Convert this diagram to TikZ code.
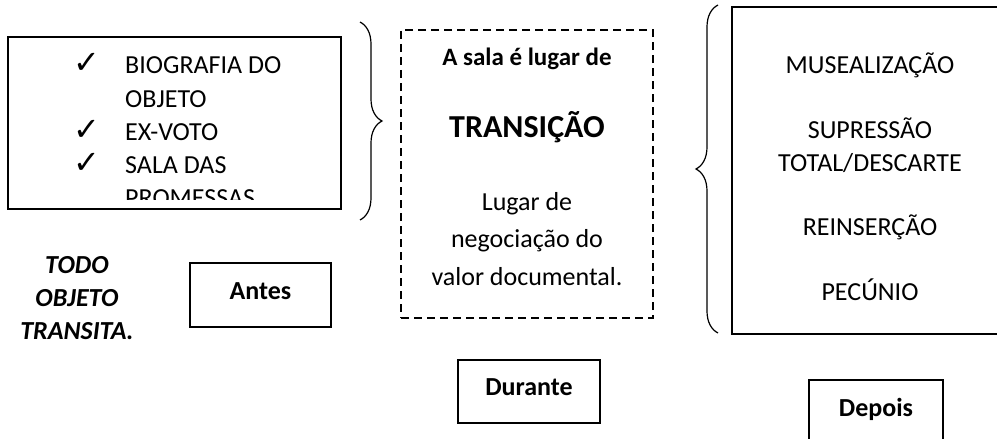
\documentclass[tikz,border=0pt]{standalone}
\usepackage{fontspec}
\setmainfont{Carlito}
\newfontfamily\checkfont{DejaVu Sans}
\usetikzlibrary{decorations.pathreplacing}

\begin{document}
\begin{tikzpicture}[
    x=1pt, y=-1pt,
    frame/.style={draw, line width=1.5pt, inner sep=0pt},
    phase/.style={draw, line width=1.5pt, text height=18pt, text depth=10pt, font=\fontsize{26}{31}\selectfont\bfseries},
    item/.style={anchor=base west, inner sep=0pt, font=\fontsize{26}{33}\selectfont},
    tick/.style={anchor=base, inner sep=0pt, font=\checkfont\fontsize{32}{36}\selectfont},
    line/.style={anchor=base, inner sep=0pt, font=\fontsize{26}{33}\selectfont},
    curly/.style={decorate, decoration={brace, amplitude=22pt}, line width=1.2pt}
]
    \clip (0,0) rectangle (997,439);

    % Antes: list box
    \node[frame, minimum width=333pt, minimum height=172pt] (list) at (174.5,123) {};
    \begin{scope}
        \clip (8,37) rectangle (341,199);
        \node[tick] (tick1) at (87,73) {✓};
        \node[item] (bio) at (125,73) {BIOGRAFIA DO};
        \node[item] (obj) at (125,107) {OBJETO};
        \node[tick] (tick2) at (87,140) {✓};
        \node[item] (voto) at (125,140) {EX-VOTO};
        \node[tick] (tick3) at (87,173) {✓};
        \node[item] (sala) at (125,173) {SALA DAS};
        \node[item] (prom) at (125,206) {PROMESSAS};
    \end{scope}
    \draw[curly] (360,22) -- (360,220);

    % Durante: dashed box
    \node[frame, dash pattern=on 8pt off 5pt, minimum width=252pt, minimum height=288pt] (room) at (527,174) {};
    \node[line, font=\fontsize{25}{30}\selectfont\bfseries] (saltit) at (527,65) {A sala é lugar de};
    \node[line, font=\fontsize{32}{38}\selectfont\bfseries] (trans) at (527,137) {TRANSIÇÃO};
    \node[line] (neg1) at (527,210) {Lugar de};
    \node[line] (neg2) at (527,247) {negociação do};
    \node[line] (neg3) at (527,285) {valor documental.};

    % Depois: destinations
    \draw[curly] (718,333) -- (718,5);
    \node[frame, minimum width=276pt, minimum height=327pt] (dest) at (870,170.5) {};
    \node[line] (mus) at (870,73) {MUSEALIZAÇÃO};
    \node[line] (sup1) at (870,138) {SUPRESSÃO};
    \node[line] (sup2) at (870,171) {TOTAL/DESCARTE};
    \node[line] (rein) at (870,235) {REINSERÇÃO};
    \node[line] (pec) at (870,300) {PECÚNIO};

    % Phases
    \node[line, align=center, font=\fontsize{26}{33}\selectfont\bfseries\itshape] (todo) at (77,339) {TODO\\OBJETO\\TRANSITA.};
    \node[phase, minimum width=141pt, minimum height=64pt] (antes) at (260.5,295) {Antes};
    \node[phase, minimum width=142pt, minimum height=63pt] (durante) at (529,391.5) {Durante};
    \node[phase, minimum width=134pt, minimum height=64pt] (depois) at (876,412) {Depois};
\end{tikzpicture}
\end{document}
